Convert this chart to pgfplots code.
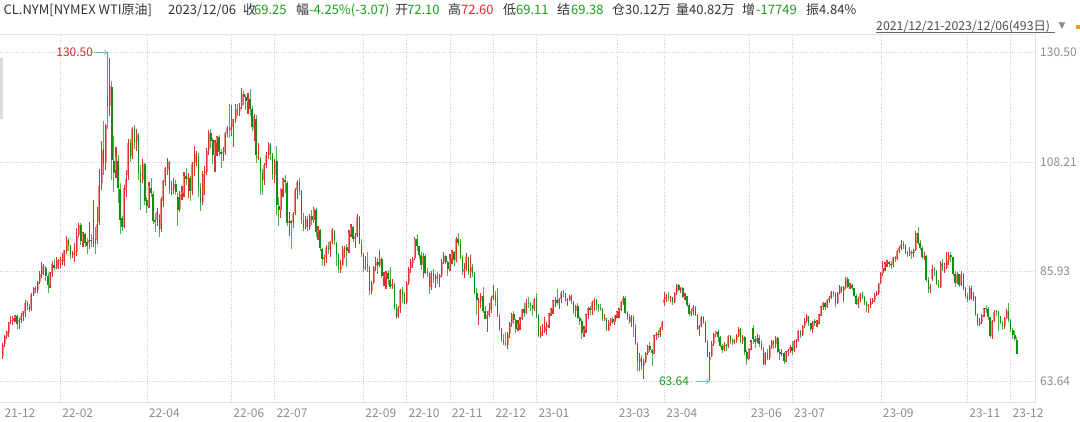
\documentclass[border=0pt]{standalone}
\usepackage{fontspec}
\setmainfont{Noto Sans CJK SC}
\newfontfamily\symfont{DejaVu Sans}
\usepackage{pgfplots}
\usepackage{pgfplotstable}
\pgfplotsset{compat=1.18}
\usetikzlibrary{arrows.meta}
\definecolor{upbody}{HTML}{F58A8A}
\definecolor{upwick}{HTML}{E03030}
\definecolor{dnbody}{HTML}{138E13}
\definecolor{dnwick}{HTML}{4DB34D}
\definecolor{txt}{HTML}{333333}
\definecolor{tickc}{HTML}{8C8C8C}
\definecolor{gridc}{HTML}{D0D0D0}
\definecolor{hgreen}{HTML}{1B9B1B}
\definecolor{hred}{HTML}{E8262A}
\definecolor{arrowc}{HTML}{6CB0D8}
\definecolor{bordc}{HTML}{E2E2E2}
\newcommand\fs[1]{\fontsize{#1}{#1}\selectfont}

\pgfplotstableread{
o h l c
68.7 71.4 68.1 71.1
71.2 73.0 70.6 72.8
72.8 73.9 72.3 73.8
73.5 75.7 72.6 75.6
75.8 76.9 75.3 76.0
75.9 76.9 75.0 76.6
76.6 77.2 75.7 77.0
77.0 77.2 74.3 75.2
75.7 76.5 74.3 76.1
76.1 77.6 75.4 77.0
77.0 78.0 75.8 77.9
77.6 80.2 76.7 79.5
79.6 80.0 78.2 78.9
78.7 79.4 77.8 78.2
78.3 81.5 78.0 81.2
81.3 82.9 81.0 82.6
82.7 83.0 81.5 82.1
82.1 84.1 81.6 83.8
83.9 86.0 83.5 85.4
85.4 87.9 84.6 87.0
86.6 87.4 85.2 86.9
86.7 87.1 84.0 85.1
85.0 85.7 81.5 83.3
83.2 85.9 82.7 85.6
85.7 88.0 84.9 87.4
87.2 88.5 86.3 86.6
86.6 88.8 86.5 86.8
86.6 88.5 86.5 88.2
88.0 88.8 86.6 88.2
88.2 89.7 87.2 88.3
87.9 90.4 87.0 90.3
90.1 93.2 89.6 92.3
92.3 92.7 90.1 91.3
91.3 91.4 88.5 89.4
89.4 90.2 88.6 89.7
89.7 91.7 87.8 89.9
89.9 94.7 89.2 93.1
93.4 95.8 92.9 95.5
95.5 95.8 91.3 92.1
92.2 93.9 91.0 93.7
93.5 93.8 91.0 91.8
92.0 92.8 89.6 91.1
91.8 96.0 90.5 92.4
92.4 93.5 91.0 92.1
92.5 100.5 91.0 92.8
92.5 95.0 89.5 91.6
92.3 99.1 91.6 95.7
96.0 106.8 95.5 103.4
104.0 112.5 102.5 110.6
111.0 116.6 105.5 107.7
108.0 116.0 106.5 115.7
121.6 130.5 115.0 119.4
119.5 129.4 117.5 123.7
123.5 124.6 104.5 108.7
108.5 113.5 102.2 106.0
106.5 111.2 105.0 109.3
108.5 109.7 99.8 103.0
102.8 103.9 93.5 96.4
96.8 97.3 94.2 95.0
95.0 103.5 94.8 103.0
102.5 106.5 101.0 104.7
105.5 112.9 104.5 112.1
112.0 112.8 108.3 109.3
109.5 115.4 108.8 114.9
114.9 115.7 110.8 112.3
112.5 115.0 110.5 113.9
113.5 114.0 104.6 106.0
106.0 107.6 98.4 104.2
104.5 108.9 103.9 107.8
107.8 108.0 99.4 100.3
100.5 101.1 97.8 99.3
99.3 104.1 98.9 103.3
103.0 104.9 101.0 102.0
101.8 102.3 95.7 96.2
96.5 97.8 94.0 96.0
96.4 98.8 95.3 98.3
97.5 97.7 92.9 94.3
94.6 101.0 94.0 100.6
100.3 104.6 99.0 104.3
104.2 107.2 103.3 107.0
106.6 109.0 105.6 108.2
108.3 108.5 101.8 102.6
102.6 104.4 101.5 102.8
102.8 105.0 101.8 103.8
103.8 104.5 101.5 102.1
101.0 101.9 95.3 98.5
98.6 102.4 98.0 101.7
101.7 103.4 100.5 102.0
102.0 106.1 101.0 105.4
105.4 107.0 103.5 104.7
104.7 105.9 100.9 105.2
105.0 105.3 100.3 102.4
102.4 108.3 101.4 107.8
108.0 111.4 105.3 108.3
108.1 110.5 107.3 109.8
109.5 110.0 101.0 103.1
102.9 104.0 98.2 99.8
100.0 106.3 99.5 105.7
105.9 107.3 101.4 106.1
106.1 111.0 105.6 110.5
110.6 114.8 109.6 114.2
114.2 115.0 111.0 112.4
112.6 113.0 107.8 109.6
109.4 112.7 106.1 112.2
112.0 113.5 109.4 113.2
113.3 113.6 109.5 110.3
110.3 110.9 107.0 109.8
110.0 111.2 108.5 110.3
110.3 114.4 109.6 114.1
114.0 115.5 113.3 115.1
115.2 119.9 113.0 114.7
114.8 119.7 113.5 115.3
115.3 117.0 111.2 116.9
116.9 120.0 116.2 118.9
119.0 120.0 117.6 118.5
118.5 120.2 117.6 119.4
119.5 123.2 119.0 122.1
122.1 122.7 119.7 121.5
121.5 121.8 118.7 120.7
120.3 122.3 117.9 120.9
121.0 123.0 117.5 118.9
119.0 119.6 114.5 115.3
115.0 117.9 112.5 117.6
117.0 117.8 108.0 109.6
109.0 112.0 108.7 109.5
109.0 109.2 101.5 106.2
106.2 106.8 101.5 104.3
104.5 108.0 103.5 107.6
107.5 110.3 106.9 109.6
109.6 112.3 108.8 111.8
111.5 112.0 108.7 109.8
109.8 110.0 104.6 105.8
105.5 108.8 104.0 108.4
108.4 111.5 97.5 99.5
99.3 101.0 95.1 98.5
98.5 103.0 96.9 102.7
102.7 105.0 101.0 104.8
104.5 105.5 102.0 104.1
104.0 104.4 95.1 95.8
95.9 98.0 93.2 96.3
96.3 96.5 90.6 95.8
96.0 98.0 94.7 97.6
97.8 103.0 97.5 102.6
102.6 104.6 100.7 104.2
104.2 105.0 101.4 102.3
102.3 102.5 95.6 96.4
96.4 97.8 94.2 94.7
94.9 97.2 94.5 96.7
96.7 97.2 94.2 95.0
95.0 97.6 94.4 97.3
97.3 98.4 95.4 96.4
96.4 99.0 95.9 98.6
98.5 98.8 93.0 93.9
93.9 95.3 92.4 94.4
94.4 94.6 90.1 90.7
90.5 90.8 87.1 88.5
88.5 89.4 87.0 89.0
89.0 91.3 87.7 90.8
90.8 91.9 89.5 90.5
90.4 92.2 88.9 91.9
92.0 94.7 91.5 94.3
94.2 94.4 91.3 92.1
91.8 92.0 87.0 89.4
89.4 89.8 85.7 86.5
86.5 88.2 85.7 87.1
87.3 91.1 87.0 90.5
90.5 91.2 88.7 90.8
90.9 91.6 86.9 90.2
90.5 94.4 89.8 93.7
93.6 95.6 93.0 94.9
94.9 95.2 92.0 92.5
92.5 93.7 90.8 93.1
93.1 97.6 93.0 97.0
97.0 97.3 91.5 91.6
91.5 92.6 88.9 89.6
89.5 89.8 85.9 86.6
86.6 89.1 86.3 86.9
87.5 90.0 85.9 86.9
86.9 87.0 81.2 81.9
81.9 84.0 81.3 83.5
83.6 87.0 83.5 86.8
87.0 88.9 86.0 87.8
87.8 88.6 85.4 87.3
87.3 90.4 86.9 88.5
88.5 88.9 84.6 85.1
84.9 85.9 83.1 85.1
84.9 86.0 82.4 85.7
85.7 86.3 83.3 84.5
84.3 86.8 82.4 82.9
83.0 84.5 82.4 83.5
83.4 83.6 78.1 78.7
78.7 79.3 76.3 76.7
76.8 78.9 76.6 78.5
78.5 82.4 77.5 82.2
82.2 82.8 79.6 81.2
81.3 81.8 79.3 79.5
79.8 84.1 79.3 83.6
83.6 86.9 83.3 86.5
86.6 88.4 85.7 87.8
87.6 88.9 86.7 88.5
88.6 93.0 88.2 92.6
92.6 93.6 90.1 91.1
91.1 91.2 88.4 89.4
89.4 89.9 86.3 87.3
87.3 89.8 84.7 89.1
89.2 89.6 85.4 85.6
85.8 86.7 84.8 85.5
85.5 85.9 81.3 82.8
82.8 86.0 82.1 85.6
85.6 86.5 83.7 84.5
84.4 85.5 82.7 85.1
85.0 85.9 83.4 84.6
84.6 85.5 82.9 85.3
85.3 88.4 84.9 87.9
87.9 89.9 87.5 89.1
89.1 89.4 87.4 87.9
87.9 88.0 85.1 86.5
86.5 89.6 86.1 88.4
88.4 90.4 87.5 90.0
90.0 90.1 87.0 88.2
88.2 93.0 87.8 92.6
92.6 93.7 91.2 91.8
91.8 92.5 88.4 88.9
88.9 89.3 85.3 85.8
85.8 87.6 84.6 86.5
86.5 89.8 86.0 89.0
88.9 89.0 85.3 85.9
85.9 89.3 84.7 86.9
86.9 87.4 84.8 85.6
85.6 85.8 81.3 81.6
81.6 82.5 77.2 80.1
79.8 80.5 75.1 80.0
80.0 81.5 78.6 81.0
81.0 82.8 77.5 77.9
77.9 78.9 76.2 76.3
76.3 77.9 73.6 77.2
77.2 79.6 76.8 78.2
78.2 80.9 77.5 80.6
80.6 83.3 80.2 81.2
81.2 81.9 79.0 80.0
80.5 82.7 76.8 76.9
76.9 77.4 73.9 74.3
74.3 74.5 71.7 72.0
72.0 73.2 71.1 71.5
71.5 73.6 70.9 71.0
71.1 73.6 70.2 73.2
73.2 75.7 72.5 75.4
75.4 77.5 74.6 77.3
77.3 77.9 75.3 76.1
76.1 76.3 73.5 74.3
74.5 76.0 73.8 75.2
75.2 76.8 74.1 76.1
76.2 78.4 76.0 78.3
78.3 79.6 76.8 77.5
77.5 80.3 77.3 79.6
79.6 80.8 78.5 79.5
79.4 79.7 78.0 79.0
79.0 79.2 77.0 78.4
78.4 80.5 77.9 80.3
80.6 81.5 76.6 76.9
77.0 77.3 72.7 72.8
72.8 74.9 72.5 73.7
73.7 75.2 72.8 73.8
73.8 76.7 73.5 74.6
74.6 75.7 73.0 75.1
75.1 77.6 74.5 77.4
77.4 78.6 77.0 78.4
78.4 80.1 77.4 79.9
79.9 80.8 78.7 80.2
80.2 82.4 79.1 79.5
79.5 80.5 78.3 80.3
80.3 81.9 79.6 81.6
81.7 82.2 80.7 81.6
81.6 81.6 79.8 80.1
80.1 80.5 78.9 80.2
80.2 81.2 79.9 81.0
81.0 81.3 79.3 79.7
79.7 79.9 77.4 77.9
77.9 79.2 76.8 78.9
78.9 79.6 76.3 76.4
76.4 77.0 75.1 75.9
75.9 76.3 72.3 73.4
73.4 74.8 72.6 74.1
74.1 77.3 73.5 77.1
77.1 78.7 76.3 78.5
78.5 79.0 77.2 78.1
78.1 80.0 77.1 79.7
79.7 80.6 78.0 80.1
80.1 80.3 78.2 79.1
79.1 79.4 77.8 78.6
78.6 79.3 77.9 78.5
78.5 78.6 75.8 76.3
76.3 77.4 75.9 76.4
76.4 76.5 73.8 74.0
74.0 76.0 73.9 75.4
75.4 76.6 74.9 76.3
76.3 76.8 75.3 75.7
75.7 77.2 75.1 77.1
77.1 78.0 76.5 77.7
77.7 78.5 76.6 78.2
78.2 80.0 77.9 79.7
79.7 80.9 79.2 80.5
80.5 80.9 77.3 77.6
77.6 77.9 76.0 76.7
76.7 77.4 75.3 75.7
75.7 77.2 74.6 76.7
76.7 77.2 72.6 74.8
74.8 75.2 71.0 71.3
71.3 71.6 65.7 67.6
67.6 69.3 65.7 68.4
68.4 69.0 66.0 66.7
66.7 68.2 64.1 67.6
67.6 69.6 67.3 69.3
69.3 71.1 69.0 70.9
70.9 71.7 69.6 70.0
70.0 70.1 66.8 69.3
69.3 73.1 69.2 72.8
72.8 73.6 72.1 73.2
73.2 74.0 72.5 73.0
73.0 74.7 72.6 74.4
74.4 75.9 74.1 75.7
79.5 81.8 79.0 80.4
80.4 81.3 79.7 80.7
80.7 81.8 80.0 80.6
80.6 81.0 79.8 80.7
80.7 80.8 79.2 79.7
79.7 81.7 79.6 81.5
81.5 83.5 81.1 83.3
83.3 83.5 82.0 82.2
82.2 82.8 81.5 82.5
82.5 82.9 80.5 80.8
80.8 81.5 80.1 80.9
80.9 81.0 78.7 79.2
79.2 79.5 77.0 77.4
77.4 78.3 77.0 77.9
77.9 79.1 77.2 78.8
78.8 78.9 76.9 77.1
77.1 77.3 74.1 74.3
74.3 75.0 72.9 74.8
74.8 76.9 74.6 76.8
76.8 76.9 75.2 75.7
75.7 75.9 71.4 71.7
71.7 72.0 68.5 68.6
68.0 69.6 63.64 68.6
68.7 71.8 68.6 71.3
71.3 73.4 70.8 73.2
73.2 73.9 72.6 73.7
73.7 74.0 71.6 72.6
72.6 72.9 70.6 70.9
70.9 71.3 69.4 70.0
70.0 71.6 69.7 71.1
71.1 71.3 69.7 70.9
70.9 73.0 70.5 72.8
72.8 73.0 71.2 71.9
71.9 72.4 71.0 71.7
71.7 72.3 71.2 72.0
72.0 73.2 71.5 72.9
72.9 74.7 72.6 74.3
74.3 74.5 71.5 71.8
71.8 73.0 71.3 72.7
72.7 72.8 68.9 69.5
69.5 69.9 67.0 68.1
68.1 70.4 67.9 70.1
70.1 72.0 69.9 71.7
74.5 75.1 71.2 72.2
72.2 72.9 70.5 71.7
71.7 73.2 71.5 72.5
72.5 73.1 70.6 71.3
71.3 72.0 69.9 70.2
70.2 70.6 66.9 67.1
67.1 69.6 67.0 69.4
69.4 70.2 68.0 68.3
68.3 71.0 67.9 70.6
70.6 72.0 70.3 71.8
71.8 72.0 70.1 71.2
71.2 72.8 70.5 72.5
72.5 72.6 69.3 69.5
69.5 70.2 67.9 69.2
69.2 70.2 68.8 69.4
69.4 69.6 67.1 67.7
67.7 69.7 67.5 69.6
69.6 70.2 68.8 69.9
69.9 71.0 69.3 70.6
70.6 71.9 69.0 69.8
69.8 72.0 69.6 71.8
71.6 72.2 70.5 71.8
71.8 74.0 71.6 73.9
73.9 74.0 72.5 73.0
73.0 75.1 72.8 74.8
74.8 76.4 74.5 75.8
75.8 77.3 75.5 76.9
76.9 77.0 74.9 75.4
75.4 75.5 73.8 74.2
74.2 75.9 73.5 75.8
75.8 76.3 74.8 75.4
75.4 76.0 74.7 75.6
75.6 77.3 75.2 77.1
77.1 79.0 76.9 78.7
78.7 79.8 78.2 79.6
79.6 79.7 78.1 78.8
78.8 80.3 78.5 80.1
80.1 80.9 79.6 80.6
80.6 81.9 80.4 81.8
81.8 81.9 80.8 81.4
81.4 81.8 78.8 79.5
79.5 81.8 79.3 81.6
81.6 83.2 81.3 82.8
82.8 83.0 81.5 81.9
81.9 83.0 79.8 82.9
82.9 84.9 82.3 84.4
84.4 84.9 82.5 82.8
82.8 83.7 82.3 83.2
83.2 83.5 82.1 82.5
82.5 82.6 80.7 81.0
81.0 81.3 79.1 79.4
79.4 80.7 78.6 80.4
80.4 81.5 79.8 81.3
81.3 81.8 80.3 80.7
80.7 80.9 79.2 79.6
79.6 80.0 77.8 78.9
78.9 79.3 77.6 79.1
79.1 80.5 78.6 79.8
79.8 80.6 79.3 80.1
80.1 81.6 79.7 81.2
81.2 81.9 80.9 81.6
81.6 83.7 81.2 83.6
83.6 85.9 83.4 85.6
85.6 88.1 85.0 86.7
86.7 87.8 86.0 87.5
87.5 88.2 86.8 87.9
87.9 88.0 86.8 87.5
87.5 88.0 86.5 87.3
87.3 89.0 86.9 88.8
88.8 89.1 87.8 88.5
88.5 90.3 88.2 90.2
90.2 91.2 89.8 90.8
90.8 92.4 90.3 91.5
91.5 92.1 90.5 91.2
91.2 91.5 89.5 89.7
89.7 90.1 88.9 89.6
89.6 91.0 89.1 90.0
90.0 90.3 88.5 89.7
89.7 90.6 88.8 90.4
90.4 94.2 90.1 93.7
93.7 95.0 91.4 91.7
91.7 92.4 90.4 90.8
90.8 91.2 88.4 88.8
88.8 90.0 88.3 89.2
89.2 89.3 83.8 84.2
84.2 84.8 81.6 82.3
82.3 83.4 81.5 82.8
84.5 87.2 84.0 86.4
86.4 86.8 85.1 86.0
86.0 86.2 83.3 83.5
83.5 84.3 82.6 82.9
82.9 88.0 82.6 87.7
87.7 88.4 86.1 86.7
86.5 87.6 85.6 86.7
86.7 89.9 86.4 88.3
88.3 90.0 87.2 89.4
89.4 89.9 87.9 88.8
88.8 89.0 85.1 85.5
85.5 86.0 82.9 83.7
83.7 85.8 83.5 85.4
85.4 85.5 82.9 83.2
83.2 86.0 83.0 85.5
85.5 85.6 82.2 82.3
82.3 82.8 80.6 81.0
81.0 81.6 79.8 80.4
80.4 83.0 80.2 82.5
82.5 83.3 80.1 80.5
80.5 81.7 79.9 80.8
80.8 80.9 76.9 77.4
77.4 77.6 74.9 75.3
75.3 76.4 74.8 75.7
75.7 77.4 75.2 77.2
77.2 78.6 76.7 78.3
78.5 79.2 77.6 78.3
78.3 78.7 76.0 76.7
76.7 76.8 72.4 72.9
72.9 76.1 72.2 75.9
75.9 78.1 75.6 77.8
78.0 78.2 76.9 77.8
77.8 78.0 73.8 77.1
76.9 77.0 75.2 75.5
75.5 75.9 74.1 74.9
74.9 76.8 74.3 76.4
76.4 78.3 76.3 77.9
77.9 79.5 75.7 76.0
76.0 76.2 73.6 74.1
74.1 74.5 72.3 73.0
73.0 73.9 71.9 72.3
72.1 72.6 69.11 69.25
}\kdata

\begin{document}
\begin{tikzpicture}[x=1pt,y=1pt]
\begin{axis}[
  at={(0pt,19pt)}, anchor=south west,
  scale only axis, width=1035.7pt, height=368pt,
  xmin=-1.26, xmax=501.1, ymin=59.43, ymax=134.22,
  axis line style={draw=none},
  major tick length=0pt,
  clip=false,
  xtick={28,70,111,132,175,196,217,238,259,298,321,362,383,426,468,489},
  xticklabels={22-02,22-04,22-06,22-07,22-09,22-10,22-11,22-12,23-01,23-03,23-04,23-06,23-07,23-09,23-11,23-12},
  extra x ticks={0}, extra x tick labels={21-12},
  extra x tick style={grid=none},
  xticklabel style={anchor=west, inner sep=0pt, xshift=1.8pt, yshift=-11pt, font=\fs{12}, text=tickc},
  ytick={63.64,85.93,108.21,130.50},
  yticklabels={63.64,85.93,108.21,130.50},
  yticklabel pos=right,
  yticklabel style={anchor=west, inner sep=0pt, xshift=4.3pt, font=\fs{12}, text=tickc},
  xmajorgrids, ymajorgrids,
  grid style={gridc, line width=0.7pt, dash pattern=on 1pt off 1.3pt},
]
% down candles: wick low->high (light green), body close->open (dark green)
\addplot[color=dnwick, line width=0.9pt, restrict y to domain=0:1000,
  quiver={u=0, v={\thisrow{h}-\thisrow{l}}}]
  table[x expr=\coordindex,
        y expr={ifthenelse(\thisrow{c}>\thisrow{o},-1000,\thisrow{l})}] {\kdata};
\addplot[color=dnbody, line width=1.5pt, restrict y to domain=0:1000,
  quiver={u=0, v={\thisrow{o}-\thisrow{c}}}]
  table[x expr=\coordindex,
        y expr={ifthenelse(\thisrow{c}>\thisrow{o},-1000,\thisrow{c})}] {\kdata};
% up candles: red wick low->high, pink body open->close with red core
\addplot[color=upwick, line width=1.15pt, restrict y to domain=0:1000,
  quiver={u=0, v={\thisrow{h}-\thisrow{l}}}]
  table[x expr=\coordindex,
        y expr={ifthenelse(\thisrow{c}>\thisrow{o},\thisrow{l},-1000)}] {\kdata};
\addplot[color=upbody, line width=2.0pt, restrict y to domain=0:1000,
  quiver={u=0, v={\thisrow{c}-\thisrow{o}}}]
  table[x expr=\coordindex,
        y expr={ifthenelse(\thisrow{c}>\thisrow{o},\thisrow{o},-1000)}] {\kdata};
\addplot[color=upwick, line width=0.8pt, restrict y to domain=0:1000,
  quiver={u=0, v={\thisrow{c}-\thisrow{o}}}]
  table[x expr=\coordindex,
        y expr={ifthenelse(\thisrow{c}>\thisrow{o},\thisrow{o},-1000)}] {\kdata};
% frame lines
\draw[bordc, line width=0.8pt] (rel axis cs:1,0) -- (rel axis cs:1,1);
\draw[bordc, line width=0.8pt] (rel axis cs:0,1) -- (rel axis cs:1,1);
\draw[bordc, line width=0.8pt] (rel axis cs:0,0) -- (rel axis cs:1,0);
% max / min annotations
\node[anchor=east, inner sep=0pt, text=hred, font=\fs{12}] at ([xshift=-14.5pt]axis cs:51,130.5) {130.50};
\draw[arrowc, line width=0.6pt, -{Straight Barb[length=2.5pt,width=5pt]}] ([xshift=-13.5pt]axis cs:51,130.5) -- ([xshift=-0.5pt]axis cs:51,130.5);
\node[anchor=east, inner sep=0pt, text=hgreen, font=\fs{12}] at ([xshift=-20.5pt]axis cs:343,63.64) {63.64};
\draw[arrowc, line width=0.6pt, -{Straight Barb[length=2.5pt,width=5pt]}] ([xshift=-13.5pt]axis cs:343,63.64) -- ([xshift=-0.5pt]axis cs:343,63.64);
\end{axis}
% scrollbar-like mark at left
\fill[black!14] (0,302) rectangle (2.5,363);
% header line
\begin{scope}[every node/.style={anchor=base west, inner sep=0pt, font=\fs{13}}]
\node[text=txt] at (3.4,406.5) {CL.NYM[NYMEX WTI原油]};
\node[text=txt] at (168,406.5) {2023/12/06};
\node[text=txt] at (243,406.5) {收};
\node[text=hgreen] at (254,406.5) {69.25};
\node[text=txt] at (296,406.5) {幅};
\node[text=hgreen] at (309,406.5) {-4.25\%(-3.07)};
\node[text=txt] at (395,406.5) {开};
\node[text=hgreen] at (407,406.5) {72.10};
\node[text=txt] at (448,406.5) {高};
\node[text=hred] at (461,406.5) {72.60};
\node[text=txt] at (503,406.5) {低};
\node[text=hgreen] at (516,406.5) {69.11};
\node[text=txt] at (557,406.5) {结};
\node[text=hgreen] at (571,406.5) {69.38};
\node[text=txt] at (612,406.5) {仓};
\node[text=txt] at (625,406.5) {30.12万};
\node[text=txt] at (676,406.5) {量};
\node[text=txt] at (689,406.5) {40.82万};
\node[text=txt] at (742,406.5) {增};
\node[text=hgreen] at (756,406.5) {-17749};
\node[text=txt] at (806,406.5) {振};
\node[text=txt] at (819,406.5) {4.84\%};
\end{scope}
% date range
\node[anchor=base west, inner sep=0pt, text=black!70, font=\fs{12.3}] at (876,390.7) {2021/12/21-2023/12/06(493日)};
\draw[black!60, line width=0.6pt] (876,388.8) -- (1055,388.8);
\node[anchor=west, inner sep=0pt, text=black!45, font=\symfont\fs{9}] at (1058.5,394.5) {▼};
\fill[orange!80!yellow] (1076,392.3) rectangle (1080,395.7);
\pgfresetboundingbox
\useasboundingbox (0,0) rectangle (1080,421);
\end{tikzpicture}
\end{document}
